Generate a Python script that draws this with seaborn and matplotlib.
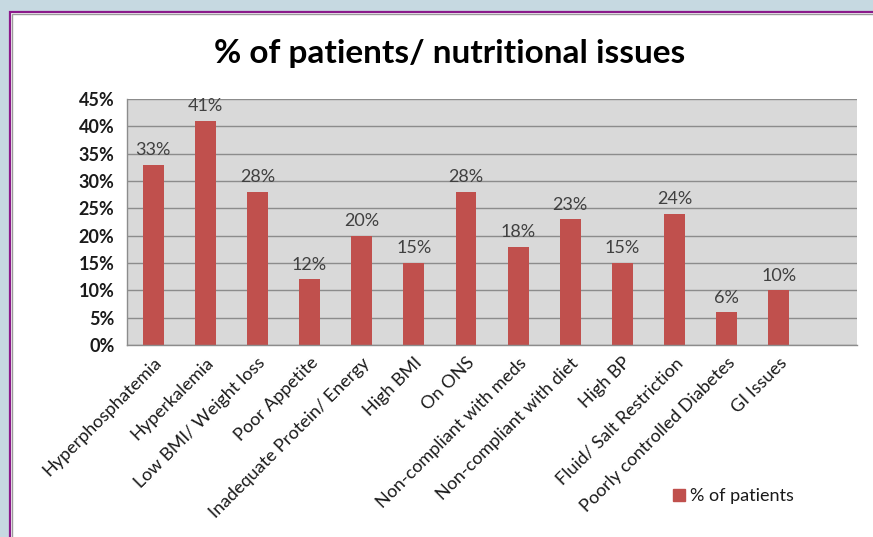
import matplotlib.pyplot as plt
import matplotlib.patches as mpatches
from matplotlib.ticker import FuncFormatter, FixedLocator
import numpy as np
import pandas as pd
import seaborn as sns

categories = ["Hyperphosphatemia", "Hyperkalemia", "Low BMI/ Weight loss", "Poor Appetite",
              "Inadequate Protein/ Energy", "High BMI", "On ONS", "Non-compliant with meds",
              "Non-compliant with diet", "High BP", "Fluid/ Salt Restriction",
              "Poorly controlled Diabetes", "GI Issues"]
values = [33, 41, 28, 12, 20, 15, 28, 18, 23, 15, 24, 6, 10]
series_name = "% of patients"

df = pd.DataFrame({"issue": categories, "pct": [v / 100 for v in values]})

sns.set_style("white")
plt.rcParams['font.family'] = ['Lato', 'DejaVu Sans']

fig = plt.figure(figsize=(8.73, 5.37), dpi=100)
fig.patch.set_facecolor('#c6d9e1')

# white chart box with purple frame
fig.patches.append(mpatches.Rectangle((10/873, -0.2), 1.2, 1.2 - 12/537, transform=fig.transFigure,
                                      facecolor='white', edgecolor='#8b1a8b', linewidth=1.6, zorder=-10))
fig.patches.append(mpatches.Rectangle((12/873, -0.2), 1.2, 1.2 - 14/537, transform=fig.transFigure,
                                      facecolor='none', edgecolor='#9a9a9a', linewidth=1.0, zorder=-9))

ax = fig.add_axes([127/873, 1 - 345/537, (857 - 127)/873, (345 - 99)/537])
ax.set_facecolor('#d9d9d9')

sns.barplot(data=df, x="issue", y="pct", color='#c0504d', saturation=1, width=0.4,
            order=categories, ax=ax, linewidth=0, edgecolor='none')

ax.set_xlim(-0.5, 13.5)
ax.set_ylim(0, 0.45)
ax.set_yticks(np.arange(0, 0.451, 0.05))
ax.yaxis.set_major_formatter(FuncFormatter(lambda v, p: f"{v*100:.0f}%"))
ax.yaxis.grid(True, color='#8c8c8c', linewidth=1.0)
ax.set_axisbelow(True)
ax.set_xlabel("")
ax.set_ylabel("")

for s in ['top', 'right']:
    ax.spines[s].set_visible(False)
for s in ['left', 'bottom']:
    ax.spines[s].set_color('#8c8c8c')
    ax.spines[s].set_linewidth(1.0)

ax.set_xticks(range(len(categories)))
ax.set_xticklabels(categories, rotation=45, ha='right', rotation_mode='anchor',
                   fontsize=13, color='#1a1a1a')
ax.tick_params(axis='x', which='major', length=0, pad=7)
ax.xaxis.set_minor_locator(FixedLocator(np.arange(-0.5, 14, 1)))
ax.tick_params(axis='x', which='minor', length=5, color='#8c8c8c', direction='out')
ax.tick_params(axis='y', length=5, color='#8c8c8c', direction='out', labelsize=13, pad=4)
for t in ax.get_yticklabels():
    t.set_fontweight('bold')
    t.set_color('#1a1a1a')

for i, v in enumerate(values):
    ax.text(i, v / 100 + 0.012, f"{v}%", ha='center', va='bottom', fontsize=13, color='#404040')

fig.text(450/873, 1 - 53/537, "% of patients/ nutritional issues", ha='center', va='center',
         fontsize=24, fontweight='bold', color='#000000')

handle = mpatches.Patch(color='#c0504d', label=series_name)
fig.legend(handles=[handle], loc='center left', bbox_to_anchor=(657/873, 1 - 496/537),
           frameon=False, fontsize=13, handlelength=0.65, handleheight=0.65, handletextpad=0.3,
           labelcolor='#1a1a1a')

fig.savefig("out.png", dpi=100, facecolor=fig.get_facecolor())
